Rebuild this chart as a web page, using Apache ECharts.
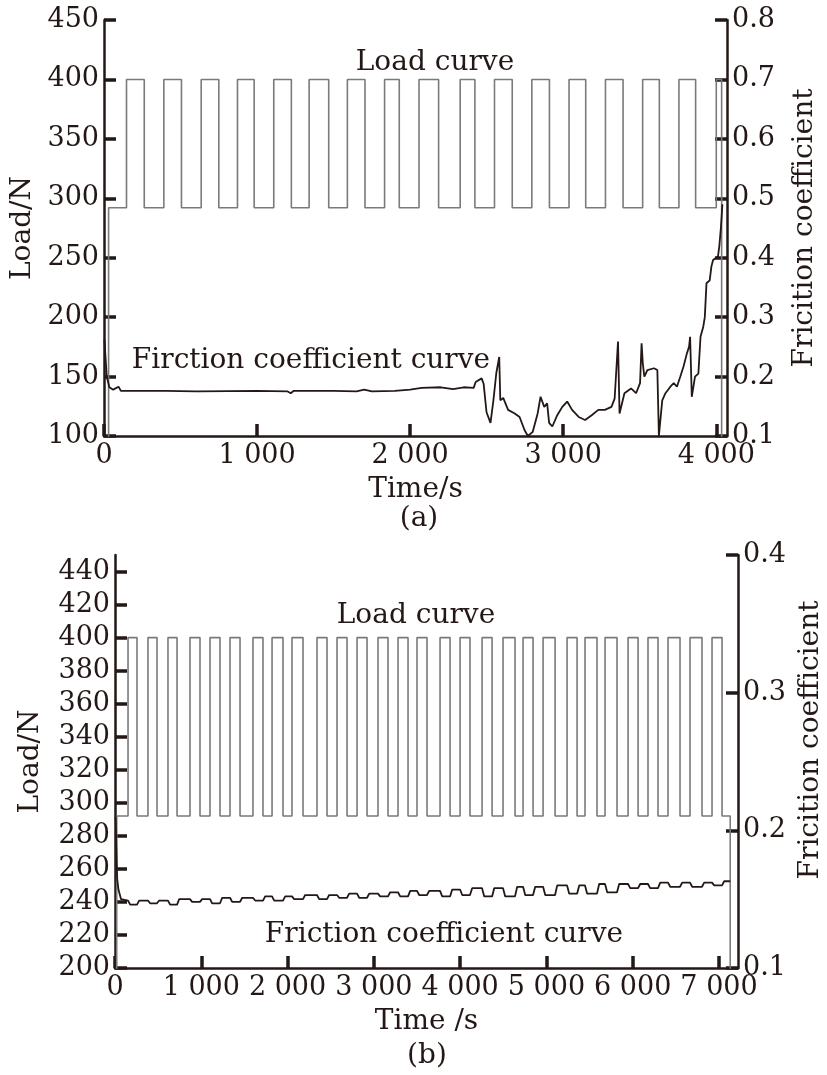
<!DOCTYPE html>
<html>
<head>
<meta charset="utf-8">
<title>Load and friction coefficient</title>
<script src="https://cdn.jsdelivr.net/npm/echarts@6/dist/echarts.min.js"></script>
<style>
  html, body { margin: 0; padding: 0; background: #fff; }
  #chart { width: 827px; height: 1075px; }
</style>
</head>
<body>
<div id="chart"></div>
<script>
// ---- panel (a) : 0 - 4000 s ----
var loadA_rise = [147, 391, 635, 872, 1109, 1340, 1590, 1833, 2058, 2327, 2551, 2795, 3038, 3276, 3519, 3756, 4000];
var loadA_fall = [263, 506, 750, 981, 1224, 1468, 1705, 1929, 2186, 2423, 2667, 2910, 3147, 3391, 3628, 3865, 4035];
var loadA_low = 292, loadA_high = 400, loadA_start = 30, loadA_end = 4035;

var fricA = [
  [3, 0.262], [8, 0.24], [18, 0.2], [35, 0.182], [60, 0.178], [95, 0.183], [110, 0.176],
  [400, 0.176], [600, 0.175], [610, 0.178], [620, 0.175], [1000, 0.176], [1200, 0.175],
  [1220, 0.172], [1240, 0.176], [1500, 0.176], [1650, 0.175], [1700, 0.178], [1750, 0.175],
  [1900, 0.176], [2000, 0.178], [2075, 0.181], [2200, 0.182], [2280, 0.179], [2350, 0.182],
  [2415, 0.181], [2428, 0.191], [2467, 0.197], [2480, 0.188], [2499, 0.14], [2525, 0.122],
  [2544, 0.16], [2563, 0.206], [2582, 0.233], [2589, 0.16], [2608, 0.164], [2640, 0.144],
  [2683, 0.138], [2715, 0.132], [2747, 0.11], [2769, 0.1], [2801, 0.107], [2833, 0.138],
  [2852, 0.166], [2876, 0.149], [2895, 0.155], [2908, 0.122], [2929, 0.116], [2961, 0.135],
  [2994, 0.149], [3026, 0.158], [3058, 0.144], [3101, 0.132], [3143, 0.127], [3186, 0.135],
  [3229, 0.144], [3272, 0.144], [3315, 0.149], [3336, 0.163], [3358, 0.259], [3368, 0.138],
  [3400, 0.172], [3443, 0.18], [3476, 0.172], [3502, 0.189], [3512, 0.256], [3520, 0.222],
  [3530, 0.2], [3550, 0.211], [3593, 0.214], [3615, 0.211], [3625, 0.1], [3647, 0.16],
  [3668, 0.172], [3700, 0.183], [3722, 0.189], [3743, 0.183], [3765, 0.2], [3786, 0.217],
  [3808, 0.239], [3822, 0.25], [3829, 0.267], [3840, 0.166], [3861, 0.2], [3883, 0.205],
  [3897, 0.267], [3915, 0.284], [3925, 0.3], [3936, 0.357], [3957, 0.362], [3968, 0.385],
  [3979, 0.396], [4011, 0.402], [4020, 0.42], [4030, 0.45], [4040, 0.49]
];

// ---- panel (b) : 0 - 7000 s ----
var loadB_rise = [151, 382, 614, 869, 1101, 1333, 1599, 1820, 2051, 2341, 2573, 2805, 3048, 3280, 3500,
  3767, 3999, 4254, 4497, 4729, 4961, 5239, 5447, 5679, 5946, 6177, 6409, 6664, 6919];
var loadB_fall = [255, 487, 719, 985, 1217, 1449, 1715, 1947, 2179, 2457, 2689, 2921, 3164, 3396, 3616,
  3883, 4114, 4370, 4636, 4845, 5100, 5355, 5586, 5818, 6062, 6293, 6548, 6803, 7035];
var loadB_low = 292, loadB_high = 400, loadB_start = 20, loadB_end = 7130;

var fricB_start = [[8, 0.21], [15, 0.19], [25, 0.165], [40, 0.157], [70, 0.15]];
// level while load is low (before each rise, and after the last fall)
var fricB_low = [0.149, 0.149, 0.149, 0.150, 0.150, 0.151, 0.151, 0.152, 0.152, 0.153, 0.153, 0.154,
  0.154, 0.155, 0.156, 0.156, 0.157, 0.158, 0.158, 0.159, 0.159, 0.160, 0.160, 0.161, 0.161, 0.161,
  0.162, 0.162, 0.162, 0.163];
// level while load is high
var fricB_high = [0.146, 0.147, 0.146, 0.148, 0.147, 0.148, 0.149, 0.149, 0.150, 0.150, 0.151, 0.151,
  0.152, 0.152, 0.153, 0.152, 0.153, 0.152, 0.152, 0.153, 0.153, 0.154, 0.154, 0.155, 0.158, 0.158,
  0.159, 0.159, 0.160];

var textColor = '#231815';
var fontFamily = '"DejaVu Serif", serif';

function buildLoad(rise, fall, low, high, start, end) {
  var pts = [[start, 0], [start, low]];
  rise.forEach(function (r, i) {
    pts.push([r, low], [r, high], [fall[i], high], [fall[i], low]);
  });
  pts.push([end, low], [end, 0]);
  return pts;
}

function buildFricB(rise, fall, lowLv, highLv, start, end) {
  var pts = start.slice();
  rise.forEach(function (r, i) {
    pts.push([r, lowLv[i]], [r + 25, highLv[i]], [fall[i], highLv[i]], [fall[i] + 25, lowLv[i + 1]]);
  });
  pts.push([end, lowLv[rise.length]]);
  return pts;
}

function thousands(v) {
  if (v === 0) return '0';
  return (v / 1000) + ' 000';
}

function xAxisOf(grid, max) {
  return {
    gridIndex: grid, type: 'value', min: 0, max: max, interval: 1000,
    name: grid === 0 ? 'Time/s' : 'Time /s',
    nameLocation: 'middle', nameGap: 40,
    nameTextStyle: { color: textColor, fontFamily: fontFamily, fontSize: 28 },
    splitLine: { show: false },
    axisLine: { lineStyle: { color: textColor, width: 2.5 } },
    axisTick: { inside: true, length: 12, lineStyle: { color: textColor, width: 3.5 } },
    axisLabel: { color: textColor, fontFamily: fontFamily, fontSize: 27, margin: 6,
      showMaxLabel: false, formatter: thousands }
  };
}

function yAxisOf(grid, pos, min, max, step, name, gap, fmt) {
  return {
    gridIndex: grid, type: 'value', position: pos, min: min, max: max, interval: step,
    name: name, nameLocation: 'middle', nameGap: gap, nameRotate: 90,
    nameTextStyle: { color: textColor, fontFamily: fontFamily, fontSize: 28 },
    splitLine: { show: false },
    axisLine: { show: true, lineStyle: { color: textColor, width: 2.5 } },
    axisTick: { inside: true, length: 12, lineStyle: { color: textColor, width: 3.5 } },
    axisLabel: { color: textColor, fontFamily: fontFamily, fontSize: 27, margin: 5,
      showMaxLabel: max % step === 0 || step < 1, formatter: fmt }
  };
}

function note(text, x, y) {
  return {
    type: 'text',
    style: { text: text, x: x, y: y, textAlign: 'center', textVerticalAlign: 'middle',
      fill: textColor, font: '28px ' + fontFamily }
  };
}

var chart = echarts.init(document.getElementById('chart'));
var option = {
  animation: false,
  backgroundColor: '#fff',
  grid: [
    { left: 104, top: 20, width: 634, height: 416 },
    { left: 115, top: 555, width: 623, height: 413 }
  ],
  xAxis: [xAxisOf(0, 4070), xAxisOf(1, 7220)],
  yAxis: [
    yAxisOf(0, 'left', 100, 450, 50, 'Load/N', 60),
    yAxisOf(0, 'right', 0.1, 0.8, 0.1, 'Fricition coefficient', 64, function (v) { return v.toFixed(1); }),
    yAxisOf(1, 'left', 200, 450, 20, 'Load/N', 70),
    yAxisOf(1, 'right', 0.1, 0.4, 0.1, '', 60, function (v) { return v.toFixed(1); })
  ],
  graphic: [
    note('Load curve', 435, 63),
    note('Firction coefficient curve', 311, 361),
    note('(a)', 419, 519),
    note('Load curve', 416, 616),
    note('Friction coefficient curve', 444, 935),
    note('(b)', 427, 1056),
    {
      type: 'text', x: 811, y: 740, rotation: Math.PI / 2,
      style: { text: 'Fricition coefficient', x: 0, y: 0, textAlign: 'center', textVerticalAlign: 'middle',
        fill: textColor, font: '28px ' + fontFamily }
    }
  ],
  series: [
    {
      type: 'line', xAxisIndex: 0, yAxisIndex: 0, showSymbol: false, z: 2,
      lineStyle: { color: '#7a7a7a', width: 1.6 },
      data: buildLoad(loadA_rise, loadA_fall, loadA_low, loadA_high, loadA_start, loadA_end)
    },
    {
      type: 'line', xAxisIndex: 0, yAxisIndex: 1, showSymbol: false, z: 3,
      lineStyle: { color: textColor, width: 1.8 },
      data: fricA
    },
    {
      type: 'line', xAxisIndex: 1, yAxisIndex: 2, showSymbol: false, z: 2,
      lineStyle: { color: '#7a7a7a', width: 1.6 },
      data: buildLoad(loadB_rise, loadB_fall, loadB_low, loadB_high, loadB_start, loadB_end)
    },
    {
      type: 'line', xAxisIndex: 1, yAxisIndex: 3, showSymbol: false, z: 3,
      lineStyle: { color: textColor, width: 1.8 },
      data: buildFricB(loadB_rise, loadB_fall, fricB_low, fricB_high, fricB_start, loadB_end)
    }
  ]
};
chart.setOption(option);
</script>
</body>
</html>
